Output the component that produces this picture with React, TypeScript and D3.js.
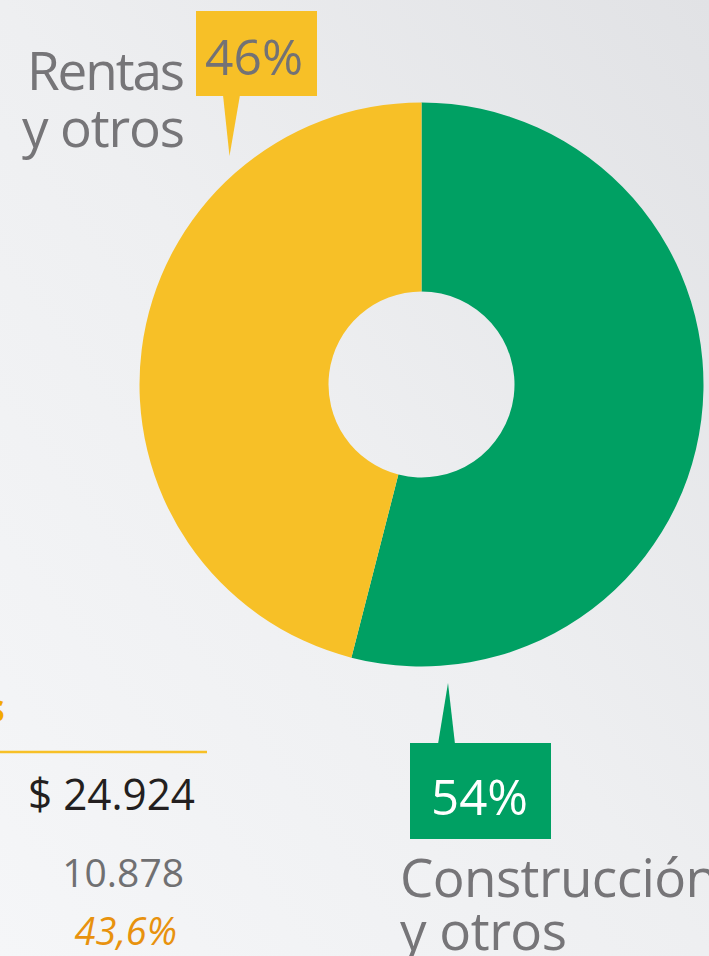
import React from "react";
import * as d3 from "d3";

const categories = ["Construcción y otros", "Rentas y otros"];
const shares = [54, 46];
const sliceColors = ["#00A063", "#F7C027"];
const pctLabels = ["54%", "46%"];
const totalLabel = "$ 24.924";
const subValueLabel = "10.878";
const subPctLabel = "43,6%";

const W = 709;
const H = 956;
const FONT = "'Open Sans', 'Noto Sans', sans-serif";

export default function App() {
  const cx = 421.5;
  const cy = 384.5;
  const R = 282;
  const r = 93;
  const pie = d3.pie<number>().sort(null).value((d) => d)(shares);
  const arc = d3.arc<d3.PieArcDatum<number>>().innerRadius(r).outerRadius(R);

  return (
    <div style={{ position: "fixed", left: 0, top: 0, width: W, height: H, overflow: "hidden" }}>
      <svg width={W} height={H} style={{ display: "block" }}>
        <defs>
          <linearGradient id="bg" x1="0" y1="1" x2="1" y2="0">
            <stop offset="0" stopColor="#f5f6f8" />
            <stop offset="0.5" stopColor="#eeeff1" />
            <stop offset="1" stopColor="#e1e2e5" />
          </linearGradient>
        </defs>
        <rect x={0} y={0} width={W} height={H} fill="url(#bg)" />

        <g transform={`translate(${cx},${cy})`}>
          {pie.map((p, i) => (
            <path key={categories[i]} d={arc(p) || ""} fill={sliceColors[i]} />
          ))}
        </g>

        {/* Rentas callout */}
        <rect x={196} y={11} width={121} height={85} fill={sliceColors[1]} />
        <path d="M223,95 L240,95 L229.5,156 Z" fill={sliceColors[1]} />
        <text x={205} y={75} fontFamily={FONT} fontSize={49} fill="#737275" textLength={98} lengthAdjust="spacingAndGlyphs">
          {pctLabels[1]}
        </text>
        <text x={27} y={90} fontFamily={FONT} fontSize={53} fill="#767578" textLength={158} lengthAdjust="spacing">
          Rentas
        </text>
        <text x={22} y={147} fontFamily={FONT} fontSize={53} fill="#767578" textLength={163} lengthAdjust="spacing">
          y otros
        </text>

        {/* Construcción callout */}
        <rect x={410} y={743} width={141} height={96} fill={sliceColors[0]} />
        <path d="M438,744 L455,744 L448,683 Z" fill={sliceColors[0]} />
        <text x={431} y={815} fontFamily={FONT} fontSize={49} fill="#ffffff" textLength={97} lengthAdjust="spacingAndGlyphs">
          {pctLabels[0]}
        </text>
        <text x={400} y={897} fontFamily={FONT} fontSize={53} fill="#767578" textLength={318} lengthAdjust="spacing">
          Construcción
        </text>
        <text x={400} y={950} fontFamily={FONT} fontSize={53} fill="#767578" textLength={167} lengthAdjust="spacing">
          y otros
        </text>

        {/* Bottom-left table fragment */}
        <text x={5} y={722} textAnchor="end" fontFamily={FONT} fontWeight={700} fontSize={40} fill="#F2A900">
          s
        </text>
        <line x1={0} x2={207} y1={752} y2={752} stroke="#F7C027" strokeWidth={2.5} />
        <text x={195} y={810} textAnchor="end" fontFamily={FONT} fontSize={43} fill="#231f20" textLength={167} lengthAdjust="spacingAndGlyphs">
          {totalLabel}
        </text>
        <text x={184} y={887} textAnchor="end" fontFamily={FONT} fontSize={39} fill="#707072">
          {subValueLabel}
        </text>
        <text x={177} y={945} textAnchor="end" fontFamily={FONT} fontStyle="italic" fontSize={38} fill="#E8920E">
          {subPctLabel}
        </text>
      </svg>
    </div>
  );
}
